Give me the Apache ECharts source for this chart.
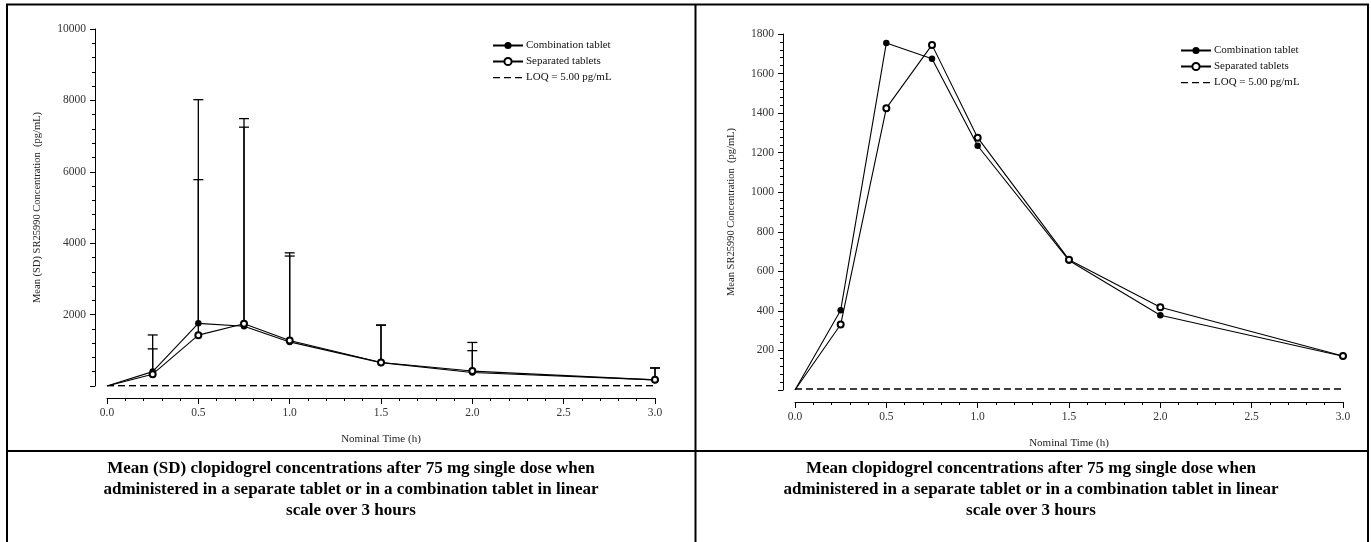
<!DOCTYPE html>
<html>
<head>
<meta charset="utf-8">
<script src="https://cdn.jsdelivr.net/npm/echarts@6/dist/echarts.min.js"></script>
<style>
  html, body { margin: 0; padding: 0; background: #fff; }
  #main { width: 1371px; height: 542px; }
</style>
</head>
<body>
<div id="main"></div>
<script>
// nominal sampling times (h)
const times = [0, 0.25, 0.5, 0.75, 1.0, 1.5, 2.0, 3.0]
// mean concentrations (pg/mL)
const combMean = [0, 403, 1755, 1675, 1235, 655, 378, 171]
const sepMean = [0, 331, 1425, 1745, 1276, 659, 418, 172]
const combSdTop = [0, 1040, 8020, 7250, 3640, 1710, 990, 510]
const sepSdTop = [0, 1430, 5780, 7490, 3730, 1700, 1220, 500]
const loq = 5

const legendNames = ['Combination tablet', 'Separated tablets', 'LOQ = 5.00 pg/mL']
const captionLeft = 'Mean (SD) clopidogrel concentrations after 75 mg single dose when\nadministered in a separate tablet or in a combination tablet in linear\nscale over 3 hours'
const captionRight = 'Mean clopidogrel concentrations after 75 mg single dose when\nadministered in a separate tablet or in a combination tablet in linear\nscale over 3 hours'

const serif = 'Liberation Serif'
// dashed line icon for the LOQ legend entry (tiny corner squares keep the 30x9 box)
const dashIcon = 'path://M0,0h0.01v0.01h-0.01z M29.99,8.99h0.01v0.01h-0.01z M0,3.9h7v1.3h-7z M11,3.9h7v1.3h-7z M22,3.9h7v1.3h-7z'

const pairs = (xs, ys) => xs.map((x, i) => [x, ys[i]])
const bars = (xs, m, t) => xs.map((x, i) => [x, m[i], t[i]]).filter(d => d[0] > 0)

const xAxisCfg = (gridIndex) => ({
    type: 'value',
    gridIndex: gridIndex,
    min: 0,
    max: 3,
    interval: 0.5,
    offset: 12,
    name: 'Nominal Time (h)',
    nameLocation: 'middle',
    nameGap: 36,
    nameTextStyle: { fontFamily: serif, fontSize: 11, color: '#222' },
    axisLine: { onZero: false, lineStyle: { color: '#000', width: 1 } },
    axisTick: { length: 6, lineStyle: { color: '#000' } },
    minorTick: { show: true, splitNumber: 5, length: 3, lineStyle: { color: '#000' } },
    splitLine: { show: false },
    axisLabel: {
        margin: 9,
        fontFamily: serif,
        fontSize: 11.5,
        color: '#333',
        formatter: v => v.toFixed(1)
    }
})

const yAxisCfg = (gridIndex, max, interval, name, nameGap) => ({
    type: 'value',
    gridIndex: gridIndex,
    min: 0,
    max: max,
    interval: interval,
    offset: 12,
    name: name,
    nameLocation: 'middle',
    nameGap: nameGap,
    nameTextStyle: { fontFamily: serif, fontSize: 10.5, color: '#222' },
    axisLine: { show: true, onZero: false, lineStyle: { color: '#000', width: 1 } },
    axisTick: { show: true, length: 5, lineStyle: { color: '#000' } },
    minorTick: { show: true, splitNumber: 5, length: 3, lineStyle: { color: '#000' } },
    splitLine: { show: false },
    axisLabel: {
        margin: 9,
        fontFamily: serif,
        fontSize: 11.5,
        color: '#333',
        formatter: v => (v === 0 ? '' : String(v))
    }
})

const lineSeries = (name, data, gi, filled) => ({
    name: name,
    type: 'line',
    xAxisIndex: gi,
    yAxisIndex: gi,
    data: data,
    symbol: filled ? 'circle' : 'emptyCircle',
    // no marker is drawn at time zero
    symbolSize: v => (v[0] === 0 ? 0 : (filled ? 6.5 : 6)),
    showAllSymbol: true,
    z: 4,
    lineStyle: { color: '#000', width: 1.1 },
    itemStyle: { color: '#000', borderColor: '#000', borderWidth: filled ? 0 : 1.2 }
})

const loqSeries = (gi) => ({
    name: legendNames[2],
    type: 'line',
    xAxisIndex: gi,
    yAxisIndex: gi,
    data: [[0, loq], [3, loq]],
    symbol: 'none',
    z: 2,
    lineStyle: { color: '#000', width: 1.4, type: [7, 4] },
    itemStyle: { color: '#000' }
})

const errorSeries = (data) => ({
    type: 'custom',
    xAxisIndex: 0,
    yAxisIndex: 0,
    data: data,
    z: 3,
    silent: true,
    renderItem: (params, api) => {
        const base = api.coord([api.value(0), api.value(1)])
        const top = api.coord([api.value(0), api.value(2)])
        const st = { stroke: '#000', lineWidth: 1.3 }
        return {
            type: 'group',
            children: [
                { type: 'line', shape: { x1: base[0], y1: base[1], x2: top[0], y2: top[1] }, style: st },
                { type: 'line', shape: { x1: top[0] - 5, y1: top[1], x2: top[0] + 5, y2: top[1] }, style: st }
            ]
        }
    }
})

const legendCfg = (left, top) => ({
    data: [
        { name: legendNames[0] },
        { name: legendNames[1] },
        { name: legendNames[2], icon: dashIcon, itemStyle: { color: '#000' } }
    ],
    orient: 'vertical',
    left: left,
    top: top,
    itemWidth: 30,
    itemHeight: 9,
    itemGap: 5,
    selectedMode: false,
    textStyle: { fontFamily: serif, fontSize: 11, color: '#111', padding: [0, 0, 0, -2] }
})

const border = (x1, y1, x2, y2) => ({
    type: 'line',
    shape: { x1: x1, y1: y1, x2: x2, y2: y2 },
    style: { stroke: '#000', lineWidth: 2 }
})

const caption = (x, text) => ({
    type: 'text',
    x: x,
    y: 458,
    style: {
        text: text,
        textAlign: 'center',
        fill: '#000',
        font: 'bold 17px "Liberation Serif"',
        lineHeight: 21
    }
})

const option = {
    animation: false,
    backgroundColor: '#fff',
    grid: [
        { left: 107, top: 29, width: 548, height: 357 },
        { left: 795, top: 34, width: 548, height: 356 }
    ],
    xAxis: [xAxisCfg(0), xAxisCfg(1)],
    yAxis: [
        yAxisCfg(0, 10000, 2000, 'Mean (SD) SR25990 Concentration  (pg/mL)', 52),
        yAxisCfg(1, 1800, 200, 'Mean SR25990 Concentration  (pg/mL)', 46)
    ],
    legend: [legendCfg(487, 35), legendCfg(1175, 40)],
    series: [
        errorSeries(bars(times, combMean, combSdTop)),
        errorSeries(bars(times, sepMean, sepSdTop)),
        lineSeries(legendNames[0], pairs(times, combMean), 0, true),
        lineSeries(legendNames[1], pairs(times, sepMean), 0, false),
        loqSeries(0),
        lineSeries(legendNames[0], pairs(times, combMean), 1, true),
        lineSeries(legendNames[1], pairs(times, sepMean), 1, false),
        loqSeries(1)
    ],
    graphic: [
        border(6, 4.5, 1369, 4.5),
        border(7, 4, 7, 542),
        border(695.5, 4, 695.5, 542),
        border(1368, 4, 1368, 542),
        border(6, 451, 1369, 451),
        caption(351, captionLeft),
        caption(1031, captionRight)
    ]
}

const myChart = echarts.init(document.getElementById('main'))
myChart.setOption(option)
</script>
</body>
</html>
